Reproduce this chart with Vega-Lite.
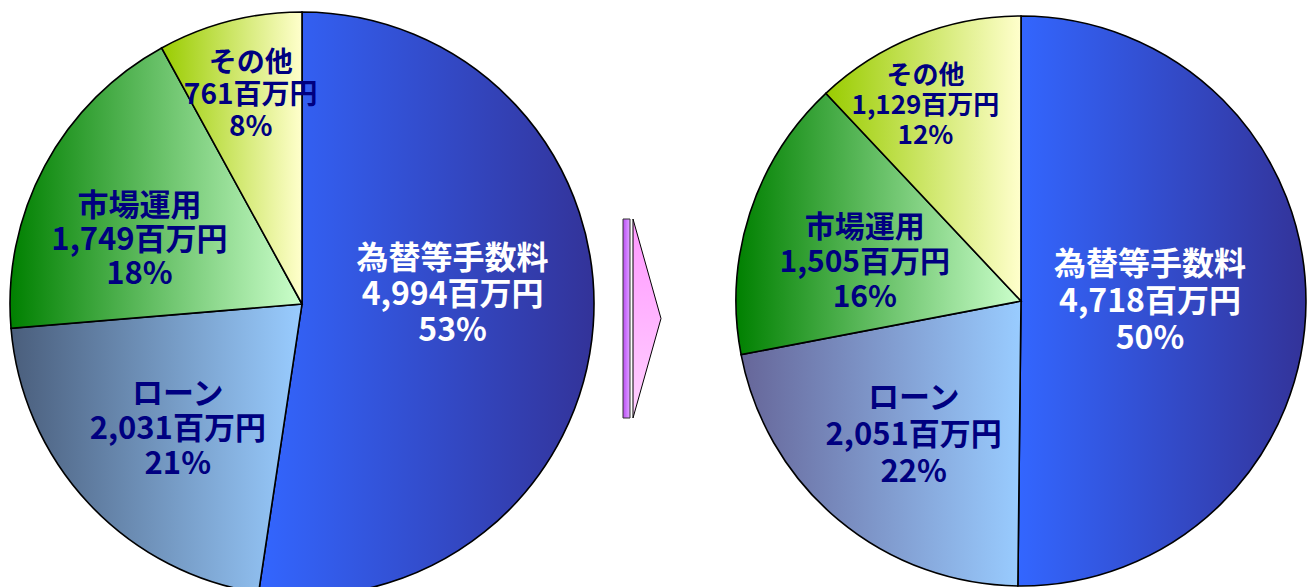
{
  "$schema": "https://vega.github.io/schema/vega-lite/v6.json",
  "background": "white",
  "padding": 0,
  "spacing": 0,
  "bounds": "flush",
  "config": {"view": {"stroke": null}},
  "datasets": {
    "pies": [
      {"period": "before", "order": 1, "item": "為替等手数料", "value": 4994, "label": "為替等手数料\n4,994百万円\n53%"},
      {"period": "before", "order": 2, "item": "ローン", "value": 2031, "label": "ローン\n2,031百万円\n21%"},
      {"period": "before", "order": 3, "item": "市場運用", "value": 1749, "label": "市場運用\n1,749百万円\n18%"},
      {"period": "before", "order": 4, "item": "その他", "value": 761, "label": "その他\n761百万円\n8%"},
      {"period": "after", "order": 1, "item": "為替等手数料", "value": 4718, "label": "為替等手数料\n4,718百万円\n50%"},
      {"period": "after", "order": 2, "item": "ローン", "value": 2051, "label": "ローン\n2,051百万円\n22%"},
      {"period": "after", "order": 3, "item": "市場運用", "value": 1505, "label": "市場運用\n1,505百万円\n16%"},
      {"period": "after", "order": 4, "item": "その他", "value": 1129, "label": "その他\n1,129百万円\n12%"}
    ],
    "arrowShaft": [
      {"x": 19, "x2": 26, "y": 219, "y2": 418}
    ],
    "arrowHead": [
      {"x": 29, "top": 219, "bottom": 418},
      {"x": 57, "top": 318.5, "bottom": 318.5}
    ]
  },
  "hconcat": [
    {
      "width": 604,
      "height": 608,
      "data": {"name": "pies"},
      "transform": [{"filter": "datum.period === 'before'"}],
      "encoding": {
        "theta": {"field": "value", "type": "quantitative", "stack": true},
        "order": {"field": "order", "type": "quantitative"}
      },
      "layer": [
        {
          "mark": {"type": "arc", "outerRadius": 292, "stroke": "#000000", "strokeWidth": 1.6},
          "encoding": {
            "fill": {
              "condition": [
                {"test": "datum.item === '為替等手数料'", "value": {"gradient": "linear", "x1": 0, "y1": 0, "x2": 1, "y2": 0, "stops": [{"offset": 0, "color": "#3366FF"}, {"offset": 1, "color": "#333399"}]}},
                {"test": "datum.item === 'ローン'", "value": {"gradient": "linear", "x1": 0, "y1": 0, "x2": 1, "y2": 0, "stops": [{"offset": 0, "color": "#4A5E7C"}, {"offset": 1, "color": "#99CCFF"}]}},
                {"test": "datum.item === '市場運用'", "value": {"gradient": "linear", "x1": 0, "y1": 0, "x2": 1, "y2": 0, "stops": [{"offset": 0, "color": "#008000"}, {"offset": 1, "color": "#CCFFCC"}]}}
              ],
              "value": {"gradient": "linear", "x1": 0, "y1": 0, "x2": 1, "y2": 0, "stops": [{"offset": 0, "color": "#99CC00"}, {"offset": 1, "color": "#FFFFCC"}]}
            }
          }
        },
        {
          "mark": {"type": "text", "radius": 151, "dy": -56, "font": "Noto Sans CJK JP", "fontWeight": "bold", "fontSize": 32, "lineBreak": "\n", "lineHeight": 36, "fill": "#FFFFFF", "align": "center", "baseline": "middle"},
          "encoding": {"text": {"condition": {"test": "datum.item === '為替等手数料'", "field": "label", "type": "nominal"}, "value": ""}}
        },
        {
          "mark": {"type": "text", "radius": 177, "dx": 5, "dy": -30, "font": "Noto Sans CJK JP", "fontWeight": "bold", "fontSize": 31, "lineBreak": "\n", "lineHeight": 35, "fill": "#000080", "align": "center", "baseline": "middle"},
          "encoding": {"text": {"condition": {"test": "datum.item === 'ローン'", "field": "label", "type": "nominal"}, "value": ""}}
        },
        {
          "mark": {"type": "text", "radius": 172, "dx": -11, "dy": -16, "font": "Noto Sans CJK JP", "fontWeight": "bold", "fontSize": 31, "lineBreak": "\n", "lineHeight": 34, "fill": "#000080", "align": "center", "baseline": "middle"},
          "encoding": {"text": {"condition": {"test": "datum.item === '市場運用'", "field": "label", "type": "nominal"}, "value": ""}}
        },
        {
          "mark": {"type": "text", "radius": 215, "dx": 2, "dy": -32, "font": "Noto Sans CJK JP", "fontWeight": "bold", "fontSize": 28, "lineBreak": "\n", "lineHeight": 32, "fill": "#000080", "align": "center", "baseline": "middle"},
          "encoding": {"text": {"condition": {"test": "datum.item === 'その他'", "field": "label", "type": "nominal"}, "value": ""}}
        }
      ]
    },
    {
      "width": 132,
      "height": 602,
      "layer": [
        {
          "data": {"name": "arrowShaft"},
          "mark": {"type": "rect", "stroke": "#333333", "strokeWidth": 1, "fill": {"gradient": "linear", "x1": 0, "y1": 0, "x2": 1, "y2": 0, "stops": [{"offset": 0, "color": "#B94FEA"}, {"offset": 0.5, "color": "#CC77FF"}, {"offset": 1, "color": "#E2A6FF"}]}},
          "encoding": {
            "x": {"field": "x", "type": "quantitative", "scale": {"domain": [0, 132], "nice": false, "zero": false}, "axis": null},
            "x2": {"field": "x2"},
            "y": {"field": "y", "type": "quantitative", "scale": {"domain": [0, 602], "nice": false, "zero": false, "reverse": true}, "axis": null},
            "y2": {"field": "y2"}
          }
        },
        {
          "data": {"name": "arrowHead"},
          "mark": {"type": "area", "orient": "vertical", "stroke": "#000000", "strokeWidth": 1, "fill": {"gradient": "linear", "x1": 0, "y1": 0, "x2": 0, "y2": 1, "stops": [{"offset": 0, "color": "#FF99FF"}, {"offset": 1, "color": "#FFD0FF"}]}},
          "encoding": {
            "x": {"field": "x", "type": "quantitative", "scale": {"domain": [0, 132], "nice": false, "zero": false}, "axis": null},
            "y": {"field": "top", "type": "quantitative", "scale": {"domain": [0, 602], "nice": false, "zero": false, "reverse": true}, "axis": null},
            "y2": {"field": "bottom"}
          }
        }
      ]
    },
    {
      "width": 570,
      "height": 602,
      "data": {"name": "pies"},
      "transform": [{"filter": "datum.period === 'after'"}],
      "encoding": {
        "theta": {"field": "value", "type": "quantitative", "stack": true},
        "order": {"field": "order", "type": "quantitative"}
      },
      "layer": [
        {
          "mark": {"type": "arc", "outerRadius": 285, "stroke": "#000000", "strokeWidth": 1.6},
          "encoding": {
            "fill": {
              "condition": [
                {"test": "datum.item === '為替等手数料'", "value": {"gradient": "linear", "x1": 0, "y1": 0, "x2": 1, "y2": 0, "stops": [{"offset": 0, "color": "#3366FF"}, {"offset": 1, "color": "#333399"}]}},
                {"test": "datum.item === 'ローン'", "value": {"gradient": "linear", "x1": 0, "y1": 0, "x2": 1, "y2": 0, "stops": [{"offset": 0, "color": "#666699"}, {"offset": 1, "color": "#99CCFF"}]}},
                {"test": "datum.item === '市場運用'", "value": {"gradient": "linear", "x1": 0, "y1": 0, "x2": 1, "y2": 0, "stops": [{"offset": 0, "color": "#008000"}, {"offset": 1, "color": "#CCFFCC"}]}}
              ],
              "value": {"gradient": "linear", "x1": 0, "y1": 0, "x2": 1, "y2": 0, "stops": [{"offset": 0, "color": "#99CC00"}, {"offset": 1, "color": "#FFFFCC"}]}
            }
          }
        },
        {
          "mark": {"type": "text", "radius": 129, "dy": -37, "font": "Noto Sans CJK JP", "fontWeight": "bold", "fontSize": 32, "lineBreak": "\n", "lineHeight": 37, "fill": "#FFFFFF", "align": "center", "baseline": "middle"},
          "encoding": {"text": {"condition": {"test": "datum.item === '為替等手数料'", "field": "label", "type": "nominal"}, "value": ""}}
        },
        {
          "mark": {"type": "text", "radius": 172, "dx": 3, "dy": -34, "font": "Noto Sans CJK JP", "fontWeight": "bold", "fontSize": 31, "lineBreak": "\n", "lineHeight": 37, "fill": "#000080", "align": "center", "baseline": "middle"},
          "encoding": {"text": {"condition": {"test": "datum.item === 'ローン'", "field": "label", "type": "nominal"}, "value": ""}}
        },
        {
          "mark": {"type": "text", "radius": 160, "dx": -4, "dy": -24, "font": "Noto Sans CJK JP", "fontWeight": "bold", "fontSize": 30, "lineBreak": "\n", "lineHeight": 35, "fill": "#000080", "align": "center", "baseline": "middle"},
          "encoding": {"text": {"condition": {"test": "datum.item === '市場運用'", "field": "label", "type": "nominal"}, "value": ""}}
        },
        {
          "mark": {"type": "text", "radius": 216, "dx": -16, "dy": -24, "font": "Noto Sans CJK JP", "fontWeight": "bold", "fontSize": 26, "lineBreak": "\n", "lineHeight": 30, "fill": "#000080", "align": "center", "baseline": "middle"},
          "encoding": {"text": {"condition": {"test": "datum.item === 'その他'", "field": "label", "type": "nominal"}, "value": ""}}
        }
      ]
    }
  ]
}
